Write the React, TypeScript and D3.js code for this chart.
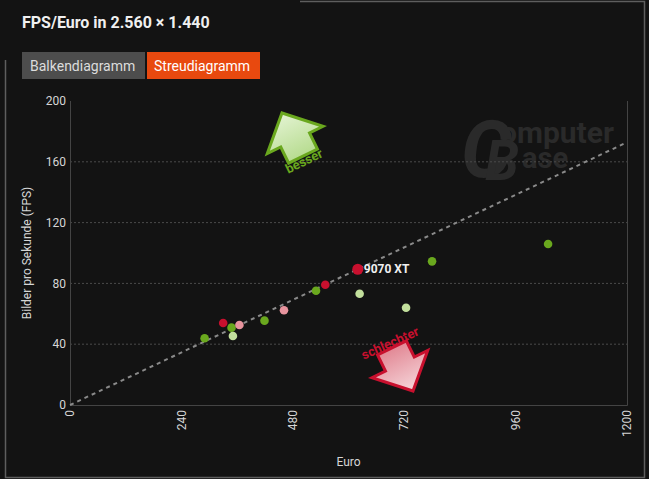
import React from "react";
import * as d3 from "d3";

const W = 649;
const H = 479;

// data
const euroValues = [290, 330, 348, 365, 351, 419, 461, 530, 550, 620, 624, 724, 780, 1030];
const fpsValues = [43.9, 53.9, 50.9, 52.6, 45.4, 55.5, 62.3, 75.2, 79.1, 89.3, 73.2, 64.0, 94.5, 105.9];
const groups = ["nv", "amd", "nv", "amdOld", "nvOld", "nv", "amdOld", "nv", "amd", "highlight", "nvOld", "nvOld", "nv", "nv"];
const highlightLabel = "9070 XT";
const xTicks = [0, 240, 480, 720, 960, 1200];
const yTicks = [0, 40, 80, 120, 160, 200];
const gridTicks = [40, 80, 120, 160];

const colors: Record<string, string> = {
  nv: "#6aa81e",
  nvOld: "#c2df9c",
  amd: "#c8102e",
  amdOld: "#e8949e",
  highlight: "#c8102e",
};

const FONT = "Roboto, 'Noto Sans', sans-serif";

export default function App() {
  const left = 70, right = 627, top = 101, bottom = 405;
  const x = d3.scaleLinear().domain([0, 1200]).range([left, right]);
  const y = d3.scaleLinear().domain([0, 200]).range([bottom, top]);

  const hiIdx = groups.indexOf("highlight");
  const slope = fpsValues[hiIdx] / euroValues[hiIdx];
  const trend = d3.line<number>().x((d) => x(d)).y((d) => y(d * slope));

  // arrow shape (tip at origin, pointing up)
  const arrowPts: [number, number][] = [
    [0, 0], [31, 30], [16, 30], [16, 48], [-16, 48], [-16, 30], [-31, 30],
  ];
  const arrowPath = d3.line()(arrowPts) + "Z";

  return (
    <svg
      width={W}
      height={H}
      style={{ position: "absolute", left: 0, top: 0, background: "#131313", fontFamily: FONT }}
    >
      <defs>
        <linearGradient id="gGreen" x1="0" y1="0" x2="0" y2="1">
          <stop offset="0" stopColor="#e3f3d2" />
          <stop offset="1" stopColor="#b7dc90" />
        </linearGradient>
        <linearGradient id="gRed" x1="0" y1="0" x2="0" y2="1">
          <stop offset="0" stopColor="#f6d6da" />
          <stop offset="1" stopColor="#e28895" />
        </linearGradient>
      </defs>
      <rect x={0} y={0} width={W} height={H} fill="#131313" />
      {/* frame */}
      <path d="M300,1.5 H644.5 V477.5 H5.5 V60" fill="none" stroke="#5e5e5e" strokeWidth={1.5} />

      {/* title */}
      <text x={22} y={28} fill="#f0f0f0" fontSize={16} fontWeight={700}>
        FPS/Euro in 2.560 × 1.440
      </text>

      {/* buttons */}
      <rect x={22} y={52} width={123} height={27} fill="#4d4d4d" />
      <text x={30} y={70.5} fill="#dcdcdc" fontSize={14}>Balkendiagramm</text>
      <rect x={147} y={52} width={113} height={27} fill="#e8490f" />
      <text x={154} y={70.5} fill="#ffffff" fontSize={14}>Streudiagramm</text>

      {/* watermark (one text element) */}
      <text fill="#2a2a2a" fontWeight={700}>
        <tspan x={461} y={177} fontSize={80} fontStyle="italic">C</tspan>
        <tspan x={500} y={143} fontSize={30}>omputer</tspan>
        <tspan x={485} y={180} fontSize={55} fontStyle="italic">B</tspan>
        <tspan x={522} y={168} fontSize={29}>ase</tspan>
      </text>

      {/* grid */}
      {gridTicks.map((t) => (
        <line key={t} x1={left} x2={right} y1={y(t)} y2={y(t)} stroke="#4a4a4a" strokeWidth={1} strokeDasharray="2,2" />
      ))}
      {/* plot border */}
      <path d={`M${left + 0.5},${top} V${bottom + 0.5} H${right + 0.5} V${top}`} fill="none" stroke="#444" strokeWidth={1} />

      {/* y ticks */}
      {yTicks.map((t) => (
        <text key={t} x={66} y={y(t)} dy="0.35em" textAnchor="end" fill="#d6d6d6" fontSize={12}>
          {t}
        </text>
      ))}
      {/* x ticks */}
      {xTicks.map((t) => (
        <text
          key={t}
          transform={`translate(${x(t)},${410}) rotate(-90)`}
          textAnchor="end"
          dy="0.35em"
          fill="#d6d6d6"
          fontSize={12}
        >
          {t}
        </text>
      ))}
      <text x={(left + right) / 2} y={466} textAnchor="middle" fill="#d6d6d6" fontSize={12}>Euro</text>
      <text transform={`translate(31,${(top + bottom) / 2}) rotate(-90)`} textAnchor="middle" fill="#d6d6d6" fontSize={12}>
        Bilder pro Sekunde (FPS)
      </text>

      {/* trend line */}
      <path d={trend([0, 1200]) || ""} fill="none" stroke="#8a8a8a" strokeWidth={2} strokeDasharray="4,4" />

      {/* arrows */}
      <g transform="translate(282,113) rotate(-26)">
        <path d={arrowPath} fill="url(#gGreen)" stroke="#6aa81e" strokeWidth={3} strokeLinejoin="miter" />
      </g>
      <text transform="translate(304,161) rotate(-26)" textAnchor="middle" dy="0.35em" fill="#6aa81e" fontSize={13} fontWeight={700}>
        besser
      </text>
      <g transform="translate(413,391) rotate(154)">
        <path d={arrowPath} fill="url(#gRed)" stroke="#c8102e" strokeWidth={3} strokeLinejoin="miter" />
      </g>
      <text transform="translate(390,343) rotate(-24)" textAnchor="middle" dy="0.35em" fill="#c8102e" fontSize={13} fontWeight={700}>
        schlechter
      </text>

      {/* points */}
      {euroValues.map((e, i) => (
        <circle
          key={i}
          cx={x(e)}
          cy={y(fpsValues[i])}
          r={groups[i] === "highlight" ? 5.5 : 4.3}
          fill={colors[groups[i]]}
        />
      ))}
      <text x={x(euroValues[hiIdx]) + 6} y={y(fpsValues[hiIdx])} dy="0.35em" fill="#f0f0f0" fontSize={12} fontWeight={700}>
        {highlightLabel}
      </text>
    </svg>
  );
}
